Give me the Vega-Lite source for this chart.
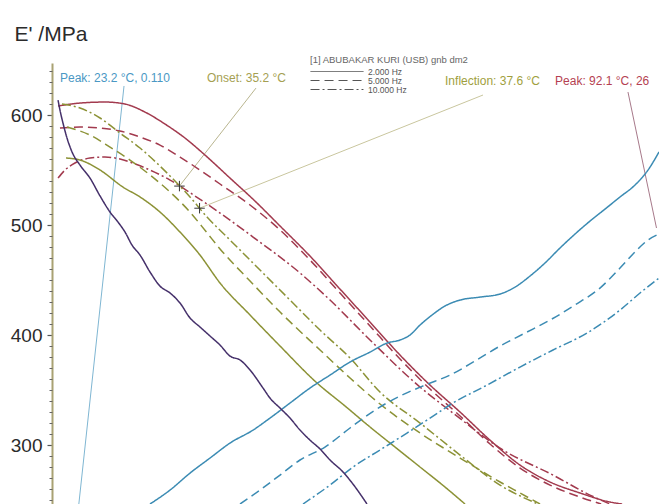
{
  "$schema": "https://vega.github.io/schema/vega-lite/v6.json",
  "width": 607,
  "height": 441,
  "autosize": {"type": "none"},
  "padding": {"left": 52, "top": 63, "right": 0, "bottom": 0},
  "background": "white",
  "config": {"view": {"stroke": null}, "font": "Liberation Sans"},
  "datasets": {
    "curves": [
      {"prop": "E''", "freq": "2.000 Hz", "T": 20.72, "E": 608.2},
      {"prop": "E''", "freq": "2.000 Hz", "T": 23.34, "E": 610.9},
      {"prop": "E''", "freq": "2.000 Hz", "T": 26.32, "E": 611.8},
      {"prop": "E''", "freq": "2.000 Hz", "T": 28.71, "E": 610.0},
      {"prop": "E''", "freq": "2.000 Hz", "T": 31.09, "E": 602.7},
      {"prop": "E''", "freq": "2.000 Hz", "T": 33.48, "E": 591.8},
      {"prop": "E''", "freq": "2.000 Hz", "T": 35.86, "E": 579.1},
      {"prop": "E''", "freq": "2.000 Hz", "T": 38.25, "E": 563.6},
      {"prop": "E''", "freq": "2.000 Hz", "T": 41.23, "E": 542.7},
      {"prop": "E''", "freq": "2.000 Hz", "T": 44.21, "E": 521.8},
      {"prop": "E''", "freq": "2.000 Hz", "T": 47.20, "E": 499.1},
      {"prop": "E''", "freq": "2.000 Hz", "T": 50.77, "E": 471.8},
      {"prop": "E''", "freq": "2.000 Hz", "T": 54.35, "E": 441.8},
      {"prop": "E''", "freq": "2.000 Hz", "T": 57.93, "E": 411.8},
      {"prop": "E''", "freq": "2.000 Hz", "T": 61.51, "E": 381.8},
      {"prop": "E''", "freq": "2.000 Hz", "T": 65.09, "E": 354.5},
      {"prop": "E''", "freq": "2.000 Hz", "T": 68.67, "E": 330.0},
      {"prop": "E''", "freq": "2.000 Hz", "T": 72.24, "E": 304.5},
      {"prop": "E''", "freq": "2.000 Hz", "T": 75.82, "E": 281.8},
      {"prop": "E''", "freq": "2.000 Hz", "T": 79.40, "E": 266.4},
      {"prop": "E''", "freq": "2.000 Hz", "T": 82.98, "E": 256.4},
      {"prop": "E''", "freq": "2.000 Hz", "T": 86.56, "E": 248.2},
      {"prop": "E''", "freq": "2.000 Hz", "T": 88.00, "E": 246.4},

      {"prop": "E''", "freq": "5.000 Hz", "T": 20.95, "E": 588.2},
      {"prop": "E''", "freq": "5.000 Hz", "T": 23.34, "E": 589.1},
      {"prop": "E''", "freq": "5.000 Hz", "T": 25.73, "E": 588.2},
      {"prop": "E''", "freq": "5.000 Hz", "T": 28.11, "E": 585.5},
      {"prop": "E''", "freq": "5.000 Hz", "T": 30.50, "E": 580.0},
      {"prop": "E''", "freq": "5.000 Hz", "T": 32.88, "E": 572.7},
      {"prop": "E''", "freq": "5.000 Hz", "T": 35.27, "E": 561.8},
      {"prop": "E''", "freq": "5.000 Hz", "T": 37.65, "E": 550.0},
      {"prop": "E''", "freq": "5.000 Hz", "T": 40.04, "E": 537.3},
      {"prop": "E''", "freq": "5.000 Hz", "T": 43.62, "E": 518.2},
      {"prop": "E''", "freq": "5.000 Hz", "T": 47.20, "E": 495.5},
      {"prop": "E''", "freq": "5.000 Hz", "T": 50.77, "E": 468.2},
      {"prop": "E''", "freq": "5.000 Hz", "T": 54.35, "E": 438.2},
      {"prop": "E''", "freq": "5.000 Hz", "T": 57.93, "E": 408.2},
      {"prop": "E''", "freq": "5.000 Hz", "T": 61.51, "E": 378.2},
      {"prop": "E''", "freq": "5.000 Hz", "T": 65.09, "E": 350.9},
      {"prop": "E''", "freq": "5.000 Hz", "T": 68.67, "E": 326.4},
      {"prop": "E''", "freq": "5.000 Hz", "T": 72.24, "E": 300.9},
      {"prop": "E''", "freq": "5.000 Hz", "T": 75.82, "E": 279.1},
      {"prop": "E''", "freq": "5.000 Hz", "T": 79.40, "E": 263.6},
      {"prop": "E''", "freq": "5.000 Hz", "T": 82.98, "E": 252.7},
      {"prop": "E''", "freq": "5.000 Hz", "T": 85.50, "E": 246.4},

      {"prop": "E''", "freq": "10.000 Hz", "T": 20.72, "E": 542.7},
      {"prop": "E''", "freq": "10.000 Hz", "T": 21.55, "E": 550.0},
      {"prop": "E''", "freq": "10.000 Hz", "T": 22.74, "E": 556.4},
      {"prop": "E''", "freq": "10.000 Hz", "T": 24.53, "E": 560.9},
      {"prop": "E''", "freq": "10.000 Hz", "T": 26.32, "E": 561.8},
      {"prop": "E''", "freq": "10.000 Hz", "T": 28.11, "E": 560.0},
      {"prop": "E''", "freq": "10.000 Hz", "T": 29.90, "E": 555.5},
      {"prop": "E''", "freq": "10.000 Hz", "T": 31.69, "E": 550.0},
      {"prop": "E''", "freq": "10.000 Hz", "T": 34.08, "E": 540.9},
      {"prop": "E''", "freq": "10.000 Hz", "T": 37.06, "E": 526.4},
      {"prop": "E''", "freq": "10.000 Hz", "T": 40.04, "E": 510.9},
      {"prop": "E''", "freq": "10.000 Hz", "T": 43.98, "E": 489.1},
      {"prop": "E''", "freq": "10.000 Hz", "T": 49.58, "E": 456.4},
      {"prop": "E''", "freq": "10.000 Hz", "T": 53.16, "E": 431.8},
      {"prop": "E''", "freq": "10.000 Hz", "T": 57.93, "E": 395.5},
      {"prop": "E''", "freq": "10.000 Hz", "T": 63.90, "E": 352.7},
      {"prop": "E''", "freq": "10.000 Hz", "T": 67.83, "E": 329.1},
      {"prop": "E''", "freq": "10.000 Hz", "T": 73.79, "E": 295.5},
      {"prop": "E''", "freq": "10.000 Hz", "T": 79.76, "E": 272.7},
      {"prop": "E''", "freq": "10.000 Hz", "T": 84.17, "E": 254.5},
      {"prop": "E''", "freq": "10.000 Hz", "T": 86.56, "E": 246.4},

      {"prop": "E'", "freq": "10.000 Hz", "T": 21.19, "E": 610.0},
      {"prop": "E'", "freq": "10.000 Hz", "T": 23.34, "E": 606.4},
      {"prop": "E'", "freq": "10.000 Hz", "T": 25.73, "E": 597.3},
      {"prop": "E'", "freq": "10.000 Hz", "T": 28.11, "E": 583.6},
      {"prop": "E'", "freq": "10.000 Hz", "T": 30.50, "E": 570.0},
      {"prop": "E'", "freq": "10.000 Hz", "T": 32.88, "E": 553.6},
      {"prop": "E'", "freq": "10.000 Hz", "T": 34.67, "E": 540.0},
      {"prop": "E'", "freq": "10.000 Hz", "T": 36.46, "E": 525.5},
      {"prop": "E'", "freq": "10.000 Hz", "T": 38.49, "E": 507.3},
      {"prop": "E'", "freq": "10.000 Hz", "T": 41.23, "E": 486.4},
      {"prop": "E'", "freq": "10.000 Hz", "T": 44.81, "E": 459.1},
      {"prop": "E'", "freq": "10.000 Hz", "T": 48.39, "E": 431.8},
      {"prop": "E'", "freq": "10.000 Hz", "T": 51.97, "E": 404.5},
      {"prop": "E'", "freq": "10.000 Hz", "T": 55.55, "E": 379.1},
      {"prop": "E'", "freq": "10.000 Hz", "T": 59.12, "E": 348.2},
      {"prop": "E'", "freq": "10.000 Hz", "T": 63.90, "E": 320.0},
      {"prop": "E'", "freq": "10.000 Hz", "T": 68.67, "E": 290.9},
      {"prop": "E'", "freq": "10.000 Hz", "T": 73.44, "E": 263.6},
      {"prop": "E'", "freq": "10.000 Hz", "T": 77.97, "E": 246.4},

      {"prop": "E'", "freq": "5.000 Hz", "T": 21.79, "E": 589.1},
      {"prop": "E'", "freq": "5.000 Hz", "T": 24.53, "E": 581.8},
      {"prop": "E'", "freq": "5.000 Hz", "T": 26.92, "E": 570.9},
      {"prop": "E'", "freq": "5.000 Hz", "T": 29.30, "E": 559.1},
      {"prop": "E'", "freq": "5.000 Hz", "T": 31.69, "E": 545.5},
      {"prop": "E'", "freq": "5.000 Hz", "T": 34.08, "E": 530.0},
      {"prop": "E'", "freq": "5.000 Hz", "T": 36.46, "E": 511.8},
      {"prop": "E'", "freq": "5.000 Hz", "T": 38.49, "E": 492.9},
      {"prop": "E'", "freq": "5.000 Hz", "T": 40.04, "E": 478.3},
      {"prop": "E'", "freq": "5.000 Hz", "T": 43.62, "E": 449.1},
      {"prop": "E'", "freq": "5.000 Hz", "T": 47.20, "E": 420.9},
      {"prop": "E'", "freq": "5.000 Hz", "T": 51.97, "E": 386.4},
      {"prop": "E'", "freq": "5.000 Hz", "T": 55.55, "E": 360.9},
      {"prop": "E'", "freq": "5.000 Hz", "T": 59.12, "E": 337.3},
      {"prop": "E'", "freq": "5.000 Hz", "T": 63.90, "E": 310.9},
      {"prop": "E'", "freq": "5.000 Hz", "T": 68.67, "E": 288.2},
      {"prop": "E'", "freq": "5.000 Hz", "T": 73.44, "E": 266.4},
      {"prop": "E'", "freq": "5.000 Hz", "T": 75.82, "E": 256.4},
      {"prop": "E'", "freq": "5.000 Hz", "T": 78.21, "E": 246.4},

      {"prop": "E'", "freq": "2.000 Hz", "T": 21.67, "E": 560.9},
      {"prop": "E'", "freq": "2.000 Hz", "T": 23.34, "E": 559.1},
      {"prop": "E'", "freq": "2.000 Hz", "T": 25.73, "E": 550.0},
      {"prop": "E'", "freq": "2.000 Hz", "T": 28.47, "E": 534.5},
      {"prop": "E'", "freq": "2.000 Hz", "T": 30.50, "E": 525.5},
      {"prop": "E'", "freq": "2.000 Hz", "T": 32.88, "E": 511.8},
      {"prop": "E'", "freq": "2.000 Hz", "T": 35.27, "E": 493.6},
      {"prop": "E'", "freq": "2.000 Hz", "T": 37.65, "E": 472.7},
      {"prop": "E'", "freq": "2.000 Hz", "T": 40.04, "E": 447.3},
      {"prop": "E'", "freq": "2.000 Hz", "T": 43.62, "E": 418.2},
      {"prop": "E'", "freq": "2.000 Hz", "T": 47.20, "E": 390.0},
      {"prop": "E'", "freq": "2.000 Hz", "T": 51.61, "E": 356.4},
      {"prop": "E'", "freq": "2.000 Hz", "T": 54.95, "E": 335.5},
      {"prop": "E'", "freq": "2.000 Hz", "T": 57.93, "E": 316.4},
      {"prop": "E'", "freq": "2.000 Hz", "T": 60.91, "E": 298.2},
      {"prop": "E'", "freq": "2.000 Hz", "T": 63.90, "E": 280.0},
      {"prop": "E'", "freq": "2.000 Hz", "T": 66.88, "E": 261.8},
      {"prop": "E'", "freq": "2.000 Hz", "T": 69.26, "E": 246.4},

      {"prop": "tan δ", "freq": "2.000 Hz", "T": 31.69, "E": 246.4},
      {"prop": "tan δ", "freq": "2.000 Hz", "T": 34.08, "E": 259.1},
      {"prop": "tan δ", "freq": "2.000 Hz", "T": 36.46, "E": 274.5},
      {"prop": "tan δ", "freq": "2.000 Hz", "T": 38.85, "E": 288.2},
      {"prop": "tan δ", "freq": "2.000 Hz", "T": 41.23, "E": 301.8},
      {"prop": "tan δ", "freq": "2.000 Hz", "T": 43.98, "E": 313.6},
      {"prop": "tan δ", "freq": "2.000 Hz", "T": 46.00, "E": 324.5},
      {"prop": "tan δ", "freq": "2.000 Hz", "T": 48.39, "E": 338.2},
      {"prop": "tan δ", "freq": "2.000 Hz", "T": 50.77, "E": 351.8},
      {"prop": "tan δ", "freq": "2.000 Hz", "T": 53.16, "E": 363.6},
      {"prop": "tan δ", "freq": "2.000 Hz", "T": 55.55, "E": 375.5},
      {"prop": "tan δ", "freq": "2.000 Hz", "T": 57.93, "E": 384.5},
      {"prop": "tan δ", "freq": "2.000 Hz", "T": 59.96, "E": 392.7},
      {"prop": "tan δ", "freq": "2.000 Hz", "T": 61.51, "E": 395.5},
      {"prop": "tan δ", "freq": "2.000 Hz", "T": 62.70, "E": 400.0},
      {"prop": "tan δ", "freq": "2.000 Hz", "T": 63.90, "E": 409.1},
      {"prop": "tan δ", "freq": "2.000 Hz", "T": 65.33, "E": 418.2},
      {"prop": "tan δ", "freq": "2.000 Hz", "T": 66.88, "E": 426.4},
      {"prop": "tan δ", "freq": "2.000 Hz", "T": 68.67, "E": 431.8},
      {"prop": "tan δ", "freq": "2.000 Hz", "T": 71.05, "E": 434.5},
      {"prop": "tan δ", "freq": "2.000 Hz", "T": 73.44, "E": 437.3},
      {"prop": "tan δ", "freq": "2.000 Hz", "T": 75.23, "E": 443.6},
      {"prop": "tan δ", "freq": "2.000 Hz", "T": 77.01, "E": 453.6},
      {"prop": "tan δ", "freq": "2.000 Hz", "T": 78.80, "E": 465.5},
      {"prop": "tan δ", "freq": "2.000 Hz", "T": 80.59, "E": 479.1},
      {"prop": "tan δ", "freq": "2.000 Hz", "T": 82.38, "E": 491.8},
      {"prop": "tan δ", "freq": "2.000 Hz", "T": 84.17, "E": 503.6},
      {"prop": "tan δ", "freq": "2.000 Hz", "T": 85.96, "E": 514.5},
      {"prop": "tan δ", "freq": "2.000 Hz", "T": 87.75, "E": 525.5},
      {"prop": "tan δ", "freq": "2.000 Hz", "T": 89.54, "E": 536.4},
      {"prop": "tan δ", "freq": "2.000 Hz", "T": 91.09, "E": 550.0},
      {"prop": "tan δ", "freq": "2.000 Hz", "T": 92.40, "E": 566.4},

      {"prop": "tan δ", "freq": "5.000 Hz", "T": 42.43, "E": 246.4},
      {"prop": "tan δ", "freq": "5.000 Hz", "T": 44.81, "E": 259.1},
      {"prop": "tan δ", "freq": "5.000 Hz", "T": 47.20, "E": 272.7},
      {"prop": "tan δ", "freq": "5.000 Hz", "T": 49.58, "E": 286.4},
      {"prop": "tan δ", "freq": "5.000 Hz", "T": 52.56, "E": 298.2},
      {"prop": "tan δ", "freq": "5.000 Hz", "T": 55.55, "E": 315.5},
      {"prop": "tan δ", "freq": "5.000 Hz", "T": 58.53, "E": 331.8},
      {"prop": "tan δ", "freq": "5.000 Hz", "T": 61.51, "E": 344.5},
      {"prop": "tan δ", "freq": "5.000 Hz", "T": 64.49, "E": 354.5},
      {"prop": "tan δ", "freq": "5.000 Hz", "T": 67.47, "E": 363.6},
      {"prop": "tan δ", "freq": "5.000 Hz", "T": 70.46, "E": 376.4},
      {"prop": "tan δ", "freq": "5.000 Hz", "T": 73.44, "E": 390.0},
      {"prop": "tan δ", "freq": "5.000 Hz", "T": 76.42, "E": 401.8},
      {"prop": "tan δ", "freq": "5.000 Hz", "T": 79.40, "E": 413.6},
      {"prop": "tan δ", "freq": "5.000 Hz", "T": 82.38, "E": 427.3},
      {"prop": "tan δ", "freq": "5.000 Hz", "T": 85.36, "E": 442.7},
      {"prop": "tan δ", "freq": "5.000 Hz", "T": 87.75, "E": 460.9},
      {"prop": "tan δ", "freq": "5.000 Hz", "T": 89.54, "E": 475.5},
      {"prop": "tan δ", "freq": "5.000 Hz", "T": 91.09, "E": 486.4},
      {"prop": "tan δ", "freq": "5.000 Hz", "T": 92.40, "E": 491.8},

      {"prop": "tan δ", "freq": "10.000 Hz", "T": 49.94, "E": 246.4},
      {"prop": "tan δ", "freq": "10.000 Hz", "T": 53.16, "E": 263.6},
      {"prop": "tan δ", "freq": "10.000 Hz", "T": 55.90, "E": 280.0},
      {"prop": "tan δ", "freq": "10.000 Hz", "T": 59.12, "E": 295.5},
      {"prop": "tan δ", "freq": "10.000 Hz", "T": 62.34, "E": 310.9},
      {"prop": "tan δ", "freq": "10.000 Hz", "T": 65.09, "E": 324.5},
      {"prop": "tan δ", "freq": "10.000 Hz", "T": 67.83, "E": 338.2},
      {"prop": "tan δ", "freq": "10.000 Hz", "T": 71.89, "E": 354.5},
      {"prop": "tan δ", "freq": "10.000 Hz", "T": 75.82, "E": 370.9},
      {"prop": "tan δ", "freq": "10.000 Hz", "T": 79.76, "E": 386.4},
      {"prop": "tan δ", "freq": "10.000 Hz", "T": 83.81, "E": 401.8},
      {"prop": "tan δ", "freq": "10.000 Hz", "T": 87.75, "E": 422.7},
      {"prop": "tan δ", "freq": "10.000 Hz", "T": 90.14, "E": 438.2},
      {"prop": "tan δ", "freq": "10.000 Hz", "T": 92.40, "E": 451.8},

      {"prop": "E' (1)", "freq": "2.000 Hz", "T": 20.72, "E": 613.6},
      {"prop": "E' (1)", "freq": "2.000 Hz", "T": 20.95, "E": 604.5},
      {"prop": "E' (1)", "freq": "2.000 Hz", "T": 21.31, "E": 592.7},
      {"prop": "E' (1)", "freq": "2.000 Hz", "T": 21.79, "E": 579.1},
      {"prop": "E' (1)", "freq": "2.000 Hz", "T": 22.39, "E": 566.4},
      {"prop": "E' (1)", "freq": "2.000 Hz", "T": 23.34, "E": 554.5},
      {"prop": "E' (1)", "freq": "2.000 Hz", "T": 24.53, "E": 542.7},
      {"prop": "E' (1)", "freq": "2.000 Hz", "T": 25.73, "E": 526.4},
      {"prop": "E' (1)", "freq": "2.000 Hz", "T": 26.92, "E": 511.8},
      {"prop": "E' (1)", "freq": "2.000 Hz", "T": 27.87, "E": 502.7},
      {"prop": "E' (1)", "freq": "2.000 Hz", "T": 28.71, "E": 493.6},
      {"prop": "E' (1)", "freq": "2.000 Hz", "T": 29.54, "E": 481.8},
      {"prop": "E' (1)", "freq": "2.000 Hz", "T": 30.50, "E": 472.7},
      {"prop": "E' (1)", "freq": "2.000 Hz", "T": 31.69, "E": 457.3},
      {"prop": "E' (1)", "freq": "2.000 Hz", "T": 32.88, "E": 444.5},
      {"prop": "E' (1)", "freq": "2.000 Hz", "T": 34.08, "E": 438.2},
      {"prop": "E' (1)", "freq": "2.000 Hz", "T": 35.27, "E": 429.1},
      {"prop": "E' (1)", "freq": "2.000 Hz", "T": 36.46, "E": 415.5},
      {"prop": "E' (1)", "freq": "2.000 Hz", "T": 37.65, "E": 407.3},
      {"prop": "E' (1)", "freq": "2.000 Hz", "T": 38.85, "E": 399.1},
      {"prop": "E' (1)", "freq": "2.000 Hz", "T": 40.04, "E": 390.9},
      {"prop": "E' (1)", "freq": "2.000 Hz", "T": 41.23, "E": 380.9},
      {"prop": "E' (1)", "freq": "2.000 Hz", "T": 42.43, "E": 377.3},
      {"prop": "E' (1)", "freq": "2.000 Hz", "T": 43.62, "E": 368.2},
      {"prop": "E' (1)", "freq": "2.000 Hz", "T": 45.17, "E": 351.8},
      {"prop": "E' (1)", "freq": "2.000 Hz", "T": 46.00, "E": 342.7},
      {"prop": "E' (1)", "freq": "2.000 Hz", "T": 47.20, "E": 333.6},
      {"prop": "E' (1)", "freq": "2.000 Hz", "T": 48.39, "E": 324.5},
      {"prop": "E' (1)", "freq": "2.000 Hz", "T": 49.58, "E": 313.6},
      {"prop": "E' (1)", "freq": "2.000 Hz", "T": 50.77, "E": 304.5},
      {"prop": "E' (1)", "freq": "2.000 Hz", "T": 51.97, "E": 296.4},
      {"prop": "E' (1)", "freq": "2.000 Hz", "T": 53.16, "E": 286.4},
      {"prop": "E' (1)", "freq": "2.000 Hz", "T": 54.71, "E": 275.5},
      {"prop": "E' (1)", "freq": "2.000 Hz", "T": 55.90, "E": 264.5},
      {"prop": "E' (1)", "freq": "2.000 Hz", "T": 57.57, "E": 246.4}
    ],
    "leaders": [
      {"kind": "tan δ peak", "T": 28.59, "E": 626.4},
      {"kind": "tan δ peak", "T": 23.2, "E": 246.4},
      {"kind": "onset", "T": 44.33, "E": 624.5},
      {"kind": "onset", "T": 35.2, "E": 535.4},
      {"kind": "inflection", "T": 71.41, "E": 618.2},
      {"kind": "inflection", "T": 37.6, "E": 515.3},
      {"kind": "E'' peak", "T": 88.70, "E": 620.9},
      {"kind": "E'' peak", "T": 92.1, "E": 497.3}
    ],
    "events": [
      {"kind": "onset", "T": 35.2, "E": 535.4},
      {"kind": "inflection", "T": 37.6, "E": 515.3}
    ],
    "labels": [
      {"kind": "tan δ peak", "label": "Peak: 23.2 °C, 0.110", "T": 20.95, "E": 633.6},
      {"kind": "onset", "label": "Onset: 35.2 °C", "T": 38.49, "E": 633.6},
      {"kind": "inflection", "label": "Inflection: 37.6 °C", "T": 66.88, "E": 630.9},
      {"kind": "E'' peak", "label": "Peak: 92.1 °C, 26", "T": 80.0, "E": 630.9}
    ]
  },
  "resolve": {"scale": {"color": "independent"}, "axis": {"y": "independent"}},
  "layer": [
    {
      "data": {"name": "leaders"},
      "mark": {"type": "line", "strokeWidth": 1},
      "encoding": {
        "x": {"field": "T", "type": "quantitative", "title": "T /°C", "scale": {"domain": [20, 92.4], "nice": false, "zero": false}, "axis": null},
        "y": {
          "field": "E", "type": "quantitative",
          "scale": {"domain": [246.4, 647.3], "nice": false, "zero": false},
          "axis": {
            "orient": "left",
            "title": "E' /MPa",
            "titleAngle": 0, "titleAlign": "left", "titleBaseline": "alphabetic",
            "titleX": -38, "titleY": -23,
            "titleFont": "Liberation Sans", "titleFontSize": 21, "titleFontWeight": "normal", "titleColor": "#2b2b2b",
            "values": [300, 400, 500, 600],
            "labelOverlap": false, "labelBound": false, "labelFlush": false,
            "labelFont": "Liberation Sans", "labelFontSize": 19, "labelColor": "#2b2b2b", "labelPadding": 5,
            "tickSize": 5, "tickColor": "#555555", "tickWidth": 1.2,
            "domainColor": "#a9a273", "domainWidth": 2,
            "grid": false
          }
        },
        "color": {
          "field": "kind", "type": "nominal", "legend": null,
          "scale": {"domain": ["tan δ peak", "onset", "inflection", "E'' peak"], "range": ["#7fb6d2", "#b9b58f", "#c9c69e", "#a7798a"]}
        },
        "detail": {"field": "kind"}
      }
    },
    {
      "data": {"name": "curves"},
      "mark": {"type": "line", "strokeWidth": 1.5, "interpolate": "monotone"},
      "encoding": {
        "x": {"field": "T", "type": "quantitative", "axis": null},
        "y": {
          "field": "E", "type": "quantitative",
          "axis": {
            "orient": "left", "title": null, "labels": false, "domain": false, "grid": false,
            "values": [250, 260, 270, 280, 290, 310, 320, 330, 340, 350, 360, 370, 380, 390, 410, 420, 430, 440, 450, 460, 470, 480, 490, 510, 520, 530, 540, 550, 560, 570, 580, 590, 610, 620, 630, 640],
            "tickSize": 3, "tickColor": "#666666", "tickWidth": 1
          }
        },
        "color": {
          "field": "prop", "type": "nominal", "legend": null,
          "scale": {"domain": ["E''", "E'", "tan δ", "E' (1)"], "range": ["#a23a4e", "#8c9236", "#3b8bb3", "#45306a"]}
        },
        "strokeDash": {
          "field": "freq", "type": "nominal",
          "scale": {"domain": ["2.000 Hz", "5.000 Hz", "10.000 Hz"], "range": [[1, 0], [9, 5], [9, 3, 2, 3]]},
          "legend": {
            "title": "[1] ABUBAKAR KURI (USB) gnb dm2",
            "orient": "none", "legendX": 258, "legendY": -8,
            "symbolType": "stroke", "symbolSize": 2800, "symbolStrokeWidth": 1, "symbolStrokeColor": "#555555",
            "labelFont": "Liberation Sans", "labelFontSize": 8.5, "labelColor": "#555555", "labelOffset": 4,
            "titleFont": "Liberation Sans", "titleFontSize": 9.5, "titleFontWeight": "normal", "titleColor": "#666666", "titlePadding": 3,
            "clipHeight": 8, "rowPadding": 0
          }
        }
      }
    },
    {
      "data": {"name": "events"},
      "mark": {"type": "point", "shape": "M-1,0H1M0,-1V1", "size": 110, "filled": false, "stroke": "#333333", "strokeWidth": 1, "opacity": 1},
      "encoding": {
        "x": {"field": "T", "type": "quantitative", "axis": null},
        "y": {"field": "E", "type": "quantitative", "axis": null}
      }
    },
    {
      "data": {"name": "labels"},
      "mark": {"type": "text", "align": "left", "baseline": "middle", "font": "Liberation Sans", "fontSize": 12},
      "encoding": {
        "x": {"field": "T", "type": "quantitative", "axis": null},
        "y": {"field": "E", "type": "quantitative", "axis": null},
        "text": {"field": "label"},
        "color": {
          "field": "kind", "type": "nominal", "legend": null,
          "scale": {"domain": ["tan δ peak", "onset", "inflection", "E'' peak"], "range": ["#4a98c4", "#a59f52", "#9f9f3e", "#b53f52"]}
        }
      }
    }
  ]
}
